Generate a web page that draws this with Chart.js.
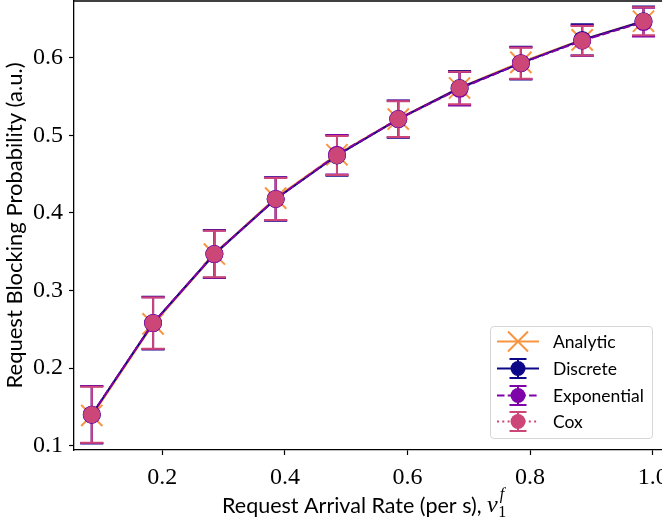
<!DOCTYPE html>
<html><head><meta charset="utf-8">
<script src="https://cdn.jsdelivr.net/npm/chart.js@4.4.1/dist/chart.umd.min.js"></script>
<style>
html,body{margin:0;padding:0;background:#fff;}
#wrap{position:relative;width:662px;height:524px;overflow:hidden;}
#legend{position:absolute;left:490px;top:326px;width:161px;height:111px;border:1px solid #d6d6d6;border-radius:4px;background:rgba(255,255,255,0.85);}
.row{position:absolute;left:0;height:27px;display:flex;align-items:center;}
.row canvas{margin-left:5px;display:block;}
.row span{font-family:Lato, "DejaVu Sans", sans-serif;font-size:17.5px;margin-left:13px;color:#000;white-space:nowrap;}
</style></head>
<body><div id="wrap"><canvas id="c" width="662" height="524"></canvas><div id="legend"></div></div>
<script>
// ---- data ----
const xValues = [0.085, 0.185, 0.285, 0.385, 0.485, 0.585, 0.685, 0.785, 0.885, 0.985];
const analytic = [0.139, 0.257, 0.347, 0.419, 0.475, 0.521, 0.561, 0.594, 0.623, 0.647];
const discrete = [0.140, 0.258, 0.347, 0.418, 0.474, 0.521, 0.561, 0.593, 0.623, 0.647];
const discreteErr = [0.037, 0.034, 0.031, 0.028, 0.026, 0.024, 0.022, 0.021, 0.020, 0.019];
const exponential = [0.140, 0.258, 0.347, 0.418, 0.475, 0.521, 0.560, 0.593, 0.622, 0.646];
const exponentialErr = [0.0365, 0.0335, 0.0305, 0.0275, 0.0255, 0.0235, 0.0215, 0.0205, 0.0195, 0.0185];
const cox = [0.140, 0.258, 0.347, 0.418, 0.474, 0.521, 0.561, 0.593, 0.622, 0.647];
const coxErr = [0.036, 0.033, 0.030, 0.027, 0.025, 0.023, 0.021, 0.020, 0.019, 0.018];
const xTicks = [0.2, 0.4, 0.6, 0.8, 1.0];
const yTicks = [0.1, 0.2, 0.3, 0.4, 0.5, 0.6];
const seriesNames = ['Analytic', 'Discrete', 'Exponential', 'Cox'];
const xLabel = 'Request Arrival Rate (per s), ';
const yLabel = 'Request Blocking Probability (a.u.)';

const COL = {analytic:'#f89540', discrete:'#0d0887', exponential:'#7e03a8', cox:'#cc4778'};
const X_MIN = 0.056, X_MAX = 1.0152, Y_MIN = 0.0945, Y_MAX = 0.6731;
const XLABEL_FONT = 21.5, YLABEL_FONT = 22;

const pts = arr => arr.map((v, i) => ({x: xValues[i], y: v}));

const errorSets = [
  {vals: discrete, err: discreteErr, color: COL.discrete},
  {vals: exponential, err: exponentialErr, color: COL.exponential},
  {vals: cox, err: coxErr, color: COL.cox}
];

const errorBarPlugin = {
  id: 'errbars',
  beforeDatasetsDraw(chart) {
    const ctx = chart.ctx, xs = chart.scales.x, ys = chart.scales.y;
    ctx.save();
    errorSets.forEach(s => {
      ctx.strokeStyle = s.color; ctx.lineWidth = 2;
      s.vals.forEach((v, i) => {
        const px = xs.getPixelForValue(xValues[i]);
        const top = ys.getPixelForValue(v + s.err[i]);
        const bot = ys.getPixelForValue(v - s.err[i]);
        ctx.beginPath();
        ctx.moveTo(px, top); ctx.lineTo(px, bot);
        ctx.moveTo(px - 11.5, top); ctx.lineTo(px + 11.5, top);
        ctx.moveTo(px - 11.5, bot); ctx.lineTo(px + 11.5, bot);
        ctx.stroke();
      });
    });
    ctx.restore();
  }
};

const framePlugin = {
  id: 'frame',
  afterDraw(chart) {
    const ctx = chart.ctx, a = chart.chartArea;
    ctx.save();
    ctx.strokeStyle = '#000'; ctx.lineWidth = 1.3;
    ctx.beginPath(); ctx.moveTo(a.left, a.top); ctx.lineTo(a.right, a.top); ctx.stroke();
    // math part of x label
    const xs = chart.scales.x;
    ctx.font = XLABEL_FONT + 'px Lato';
    const full = xs.options.title.text;
    const fullW = ctx.measureText(full).width;
    const baseW = ctx.measureText(full.trimEnd() + ' ').width;
    const cx = (xs.left + xs.right) / 2;
    const y = 506;
    const x0 = cx - fullW / 2 + baseW;
    ctx.fillStyle = '#000';
    ctx.textBaseline = 'middle'; ctx.textAlign = 'left';
    ctx.font = 'italic 24px "Liberation Serif"';
    ctx.fillText('\u03bd', x0, y);
    const nw = ctx.measureText('\u03bd').width;
    ctx.font = '16px "Liberation Serif"';
    ctx.fillText('1', x0 + nw + 0.5, y + 7);
    ctx.font = 'italic 16px "Liberation Serif"';
    ctx.fillText('f', x0 + nw + 2, y - 11);
    ctx.restore();
  }
};

const ds = [
  {label: 'Cox markers', data: pts(cox), showLine: false, pointStyle: 'circle', pointRadius: 8,
   pointBackgroundColor: COL.cox, pointBorderColor: COL.cox, pointBorderWidth: 1, order: 0},
  {label: seriesNames[2], data: pts(exponential), borderColor: COL.exponential, borderWidth: 2, borderDash: [7.5, 3.2],
   pointStyle: 'circle', pointRadius: 8, pointBackgroundColor: COL.exponential, pointBorderColor: COL.exponential, order: 1},
  {label: seriesNames[1], data: pts(discrete), borderColor: COL.discrete, borderWidth: 2,
   pointStyle: 'circle', pointRadius: 8, pointBackgroundColor: COL.discrete, pointBorderColor: COL.discrete, order: 2},
  {label: 'Cox line', data: pts(cox), borderColor: COL.cox, borderWidth: 2, borderDash: [2, 3.3], pointRadius: 0, order: 3},
  {label: seriesNames[0], data: pts(analytic), borderColor: COL.analytic, borderWidth: 2.6,
   pointStyle: 'crossRot', pointRadius: 15, pointBorderWidth: 2, pointBorderColor: COL.analytic, order: 4}
];
ds.forEach(d => { d.fill = false; d.tension = 0; d.pointHoverRadius = d.pointRadius; });

new Chart(document.getElementById('c'), {
  type: 'line',
  data: {datasets: ds},
  plugins: [errorBarPlugin, framePlugin],
  options: {
    responsive: false, animation: false,
    layout: {padding: {top: 1, left: 0, right: 0, bottom: 0}, autoPadding: false},
    plugins: {legend: {display: false}, tooltip: {enabled: false}},
    scales: {
      x: {
        type: 'linear', min: X_MIN, max: X_MAX,
        afterBuildTicks: s => { s.ticks = xTicks.map(v => ({value: v})); },
        afterFit: s => { s.height = 74; s.paddingLeft = 0; s.paddingRight = 0; },
        ticks: {font: {family: 'Liberation Serif', size: 24}, color: '#000', padding: 8, maxRotation: 0,
                callback: v => v.toFixed(1)},
        grid: {drawOnChartArea: false, drawTicks: true, tickLength: 5, tickColor: '#000', tickWidth: 1.2},
        border: {color: '#000', width: 1.3},
        title: {display: true, text: xLabel + '\u2003\u2002', font: {family: 'Lato', size: XLABEL_FONT}, color: '#000',
                padding: {top: 0, bottom: 5}}
      },
      y: {
        type: 'linear', min: Y_MIN, max: Y_MAX,
        afterBuildTicks: s => { s.ticks = yTicks.map(v => ({value: v})); },
        afterFit: s => { s.width = 74; s.paddingTop = 0; s.paddingBottom = 0; },
        ticks: {font: {family: 'Liberation Serif', size: 24}, color: '#000', padding: 6,
                callback: v => v.toFixed(1)},
        grid: {drawOnChartArea: false, drawTicks: true, tickLength: 5, tickColor: '#000', tickWidth: 1.2},
        border: {color: '#000', width: 1.3},
        title: {display: true, text: yLabel, font: {family: 'Lato', size: YLABEL_FONT}, color: '#000',
                padding: {top: 2, bottom: 0}}
      }
    }
  }
});

// ---- legend ----
function sym(kind) {
  const c = document.createElement('canvas');
  c.width = 44; c.height = 27;
  const g = c.getContext('2d');
  const cy = 13.5, cx = 22;
  const col = COL[kind];
  g.strokeStyle = col; g.fillStyle = col; g.lineWidth = 2;
  if (kind === 'exponential') g.setLineDash([7.5, 3.2]);
  if (kind === 'cox') g.setLineDash([2, 3.3]);
  g.beginPath(); g.moveTo(1, cy); g.lineTo(43, cy); g.stroke();
  g.setLineDash([]);
  if (kind === 'analytic') {
    g.beginPath();
    g.moveTo(cx - 10, cy - 10); g.lineTo(cx + 10, cy + 10);
    g.moveTo(cx - 10, cy + 10); g.lineTo(cx + 10, cy - 10);
    g.stroke();
  } else {
    g.beginPath();
    g.moveTo(cx, cy - 9.5); g.lineTo(cx, cy + 9.5);
    g.moveTo(cx - 8.5, cy - 9.5); g.lineTo(cx + 8.5, cy - 9.5);
    g.moveTo(cx - 8.5, cy + 9.5); g.lineTo(cx + 8.5, cy + 9.5);
    g.stroke();
    g.beginPath(); g.arc(cx, cy, 7.5, 0, Math.PI * 2); g.fill();
  }
  return c;
}
const keys = ['analytic', 'discrete', 'exponential', 'cox'];
const leg = document.getElementById('legend');
keys.forEach((k, i) => {
  const row = document.createElement('div');
  row.className = 'row';
  row.style.top = (1 + i * 26.8) + 'px';
  row.appendChild(sym(k));
  const sp = document.createElement('span');
  sp.textContent = seriesNames[i];
  row.appendChild(sp);
  leg.appendChild(row);
});
</script>
</body></html>
